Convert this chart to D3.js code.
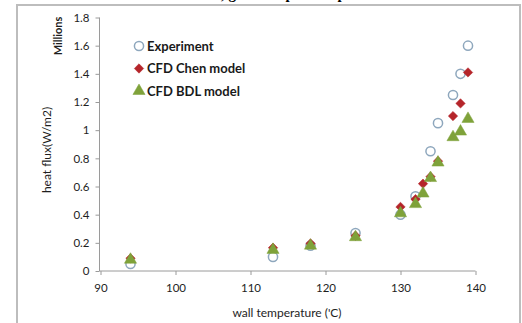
<!DOCTYPE html>
<html><head><meta charset="utf-8">
<script src="https://cdn.jsdelivr.net/npm/d3@7"></script>
<style>html,body{margin:0;padding:0;background:#fff;overflow:hidden}</style>
</head><body>
<script>
// ---- data ----
const xTicks = [90, 100, 110, 120, 130, 140];
const yTicks = [0, 0.2, 0.4, 0.6, 0.8, 1, 1.2, 1.4, 1.6, 1.8];
const seriesNames = ["Experiment", "CFD Chen model", "CFD BDL model"];
const expX  = [94, 113, 118, 124, 130, 132, 134, 135, 137, 138, 139];
const expY  = [0.05, 0.10, 0.18, 0.27, 0.40, 0.53, 0.85, 1.05, 1.25, 1.40, 1.60];
const chenX = [94, 113, 118, 124, 130, 132, 133, 134, 135, 137, 138, 139];
const chenY = [0.09, 0.165, 0.195, 0.25, 0.455, 0.51, 0.62, 0.67, 0.78, 1.10, 1.19, 1.41];
const bdlX  = [94, 113, 118, 124, 130, 132, 133, 134, 135, 137, 138, 139];
const bdlY  = [0.08, 0.15, 0.18, 0.24, 0.41, 0.475, 0.55, 0.66, 0.77, 0.95, 0.99, 1.08];

const W = 522, H = 323;
const svg = d3.select("body").append("svg").attr("width", W).attr("height", H);
const font = "Lato, 'Open Sans', sans-serif";

// partially visible caption above the frame (cut off in the reference)
svg.append("text").attr("x", 262).attr("y", -0.8).attr("text-anchor", "middle")
  .attr("font-family", "'Liberation Serif', serif").attr("font-weight", "bold").attr("font-size", 15)
  .attr("fill", "#000").text("Heat flux, grid comparison plot");

// outer frame
svg.append("rect").attr("x", 17).attr("y", 5).attr("width", 503).attr("height", 340)
  .attr("fill", "none").attr("stroke", "#bdbdbd").attr("stroke-width", 2);

const x = d3.scaleLinear().domain([90, 140]).range([100.5, 475.5]);
const y = d3.scaleLinear().domain([0, 1.8]).range([271, 17.5]);

// axes
const gx = svg.append("g").attr("transform", `translate(0,${y(0)})`)
  .call(d3.axisBottom(x).tickValues(xTicks).tickSize(4).tickPadding(9).tickSizeOuter(0));
const gy = svg.append("g").attr("transform", `translate(${x(90)-1},0)`)
  .call(d3.axisLeft(y).tickValues(yTicks).tickFormat(d => d3.format("")(+d.toFixed(1))).tickSize(4).tickPadding(6).tickSizeOuter(0));
[gx, gy].forEach(g => {
  g.selectAll(".domain, .tick line").attr("stroke", "#9a9a9a").attr("stroke-width", 1);
  g.selectAll("text").attr("font-family", font).attr("font-size", 11.5).attr("fill", "#1e1e1e");
});
gy.select(".domain").attr("d", `M0,${y(0)}V${y(1.8)}`);
gx.select(".domain").attr("d", `M${x(90)-1},0H${x(140)}`);

// axis titles
svg.append("text").attr("x", (x(90)+x(140))/2 - 1).attr("y", 317).attr("text-anchor", "middle")
  .attr("font-family", font).attr("font-size", 12).attr("fill", "#1e1e1e").text("wall temperature ('C)");
svg.append("text").attr("transform", "translate(51,150) rotate(-90)").attr("text-anchor", "middle")
  .attr("font-family", font).attr("font-size", 12).attr("fill", "#1e1e1e").text("heat flux(W/m2)");
svg.append("text").attr("transform", "translate(62,36) rotate(-90)").attr("text-anchor", "middle")
  .attr("font-family", font).attr("font-weight", "bold").attr("font-size", 11).attr("fill", "#1e1e1e").text("Millions");

// markers
const sym = {
  circle: d3.symbol().type(d3.symbolCircle).size(66),
  diamond: d3.symbol().type(d3.symbolSquare).size(44),
  triangle: d3.symbol().type(d3.symbolTriangle).size(64)
};
const styles = [
  {s: "circle", fill: "#fff", stroke: "#8ea7bd", sw: 1.5, rot: 0},
  {s: "diamond", fill: "#b5252a", stroke: "#b5252a", sw: 0.5, rot: 45},
  {s: "triangle", fill: "#7fa23a", stroke: "#7fa23a", sw: 0.5, rot: 0}
];
const series = [
  expX.map((v, i) => [v, expY[i]]),
  chenX.map((v, i) => [v, chenY[i]]),
  bdlX.map((v, i) => [v, bdlY[i]])
];
series.forEach((data, k) => {
  const st = styles[k];
  svg.append("g").selectAll("path").data(data).join("path")
    .attr("d", sym[st.s]())
    .attr("transform", d => `translate(${x(d[0])},${y(d[1])}) rotate(${st.rot})`)
    .attr("fill", st.fill).attr("stroke", st.stroke).attr("stroke-width", st.sw);
});

// legend
const legY = [46, 68.5, 91];
seriesNames.forEach((n, k) => {
  const st = styles[k];
  svg.append("path").attr("d", sym[st.s]())
    .attr("transform", `translate(139,${legY[k]}) rotate(${st.rot})`)
    .attr("fill", st.fill).attr("stroke", st.stroke).attr("stroke-width", st.sw);
  svg.append("text").attr("x", 147).attr("y", legY[k] + 4.5)
    .attr("font-family", font).attr("font-weight", "bold").attr("font-size", 13).attr("fill", "#1a1a1a").text(n);
});
</script>
</body></html>
